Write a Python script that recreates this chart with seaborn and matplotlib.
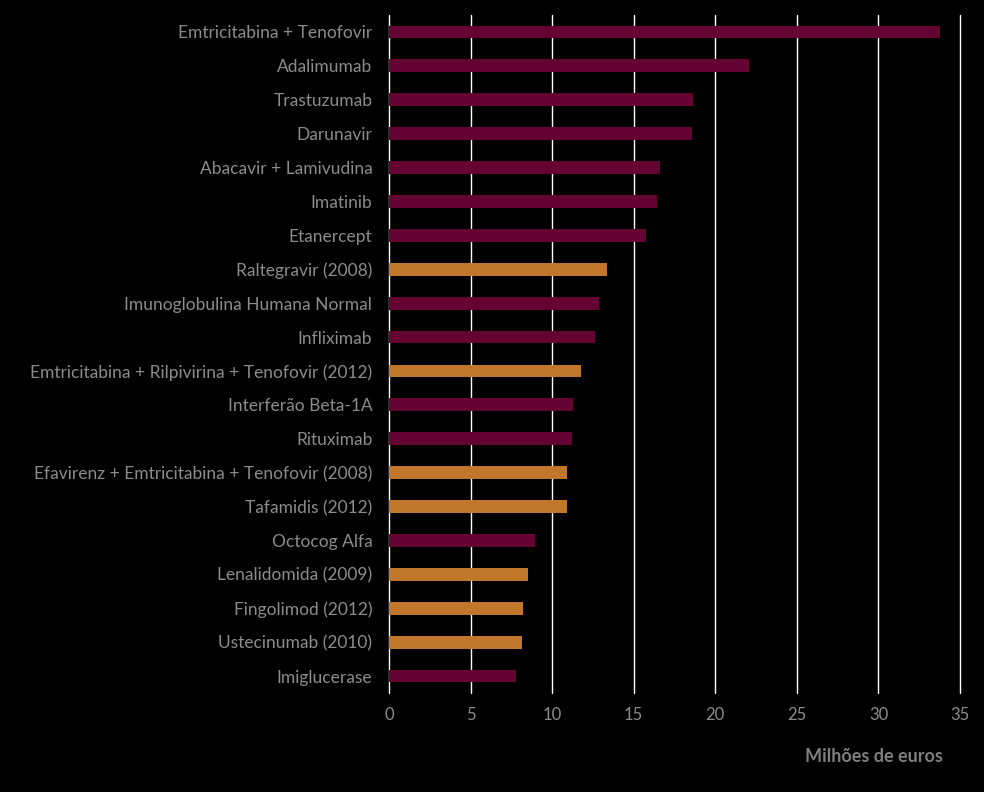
import matplotlib
matplotlib.use("Agg")
import matplotlib.pyplot as plt
import seaborn as sns
import pandas as pd

# medicines ranked by hospital spending (millions of euros)
medicines = [
    "Emtricitabina + Tenofovir", "Adalimumab", "Trastuzumab", "Darunavir",
    "Abacavir + Lamivudina", "Imatinib", "Etanercept", "Raltegravir (2008)",
    "Imunoglobulina Humana Normal", "Infliximab",
    "Emtricitabina + Rilpivirina + Tenofovir (2012)", "Interferão Beta-1A",
    "Rituximab", "Efavirenz + Emtricitabina + Tenofovir (2008)",
    "Tafamidis (2012)", "Octocog Alfa", "Lenalidomida (2009)",
    "Fingolimod (2012)", "Ustecinumab (2010)", "Imiglucerase",
]
spending = [33.8, 22.05, 18.65, 18.6, 16.6, 16.4, 15.75, 13.35, 12.85, 12.6,
            11.75, 11.3, 11.2, 10.9, 10.9, 8.95, 8.55, 8.2, 8.15, 7.8]
# "novo" = medicine introduced recently (year in label)
group = ["antigo", "antigo", "antigo", "antigo", "antigo", "antigo", "antigo",
         "novo", "antigo", "antigo", "novo", "antigo", "antigo", "novo", "novo",
         "antigo", "novo", "novo", "novo", "antigo"]

df = pd.DataFrame({"Medicamento": medicines, "Milhoes": spending, "Grupo": group})

sns.set_theme(style="dark")
plt.rcParams["font.family"] = ["Lato", "DejaVu Sans"]

grey = "#8C8C8C"
fig = plt.figure(figsize=(9.84, 7.92), dpi=100, facecolor="black")
ax = fig.add_axes([389 / 984, 1 - 693 / 792, (960 - 389) / 984, (693 - 15) / 792])
ax.set_facecolor("black")

sns.barplot(data=df, y="Medicamento", x="Milhoes", hue="Grupo",
            palette={"antigo": "#650333", "novo": "#C0772C"}, saturation=1,
            dodge=False, width=0.38, linewidth=0, legend=False, ax=ax, zorder=2)

ax.set_xlim(0, 35)
ax.set_xticks(range(0, 36, 5))
ax.grid(axis="x", color="white", linewidth=1.0, zorder=1)
ax.grid(axis="y", visible=False)
ax.set_axisbelow(True)
for line in ax.get_xgridlines():
    line.set_clip_on(False)
for s in ax.spines.values():
    s.set_visible(False)

ax.tick_params(axis="both", length=0, colors=grey)
ax.tick_params(axis="y", pad=12, labelsize=12.5)
ax.tick_params(axis="x", pad=10, labelsize=12)
ax.set_xlabel("")
ax.set_ylabel("")

fig.text(943 / 984, 1 - 757 / 792, "Milhões de euros", ha="right", va="center",
         color="#7F7F7F", fontsize=13, fontweight="bold")

fig.savefig("out.png", dpi=100, facecolor="black")
